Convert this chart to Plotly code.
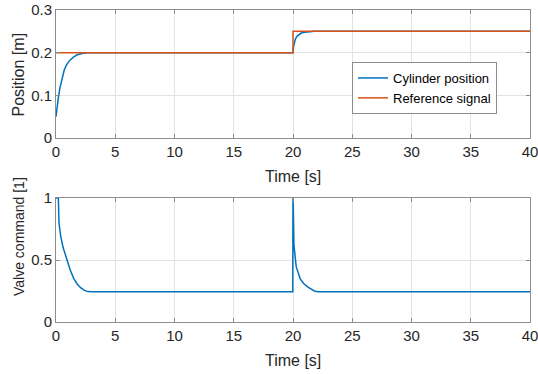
import plotly.graph_objects as go

# ---- data ----
t_pos = [0, 0.1, 0.2, 0.35, 0.5, 0.7, 0.9, 1.2, 1.5, 1.8, 2.2, 2.6, 3.0,
         20.0, 20.05, 20.1, 20.2, 20.35, 20.5, 20.7, 21.0, 21.4, 21.8, 22.2, 40]
cyl_pos = [0.05, 0.075, 0.095, 0.12, 0.14, 0.16, 0.172, 0.183, 0.19, 0.195, 0.198, 0.2, 0.2,
           0.2, 0.215, 0.224, 0.232, 0.239, 0.243, 0.246, 0.248, 0.2495, 0.25, 0.25, 0.25]

t_ref = [0, 20, 20, 40]
ref_sig = [0.2, 0.2, 0.25, 0.25]

t_valve = [0, 0.2, 0.25, 0.4, 0.6, 0.9, 1.2, 1.5, 1.8, 2.1, 2.4, 2.7, 3.0,
           19.98, 20.0, 20.03, 20.08, 20.17, 20.27, 20.6, 20.9, 21.2, 21.5, 21.8, 22.1, 40]
valve_cmd = [1.0, 1.0, 0.8, 0.69, 0.6, 0.5, 0.42, 0.35, 0.305, 0.275, 0.255, 0.245, 0.243,
             0.243, 1.0, 0.9, 0.62, 0.5, 0.446, 0.35, 0.31, 0.285, 0.265, 0.25, 0.244, 0.243]

x_ticks = [0, 5, 10, 15, 20, 25, 30, 35, 40]
pos_ticks = [0, 0.1, 0.2, 0.3]
pos_tick_text = ["0", "0.1", "0.2", "0.3"]
valve_ticks = [0, 0.5, 1]
valve_tick_text = ["0", "0.5", "1"]

W, H = 538, 374
BLUE = "#0072BD"
ORANGE = "#D95319"
AXC = "#8c8c8c"
TXT = "#262626"
GRID = "#e3e3e3"
FONT = "Liberation Sans, Arial, sans-serif"

fig = go.Figure()
fig.add_trace(go.Scatter(x=t_pos, y=cyl_pos, mode="lines", name="Cylinder position",
                         line=dict(color=BLUE, width=1.5),
                         xaxis="x", yaxis="y"))
fig.add_trace(go.Scatter(x=t_ref, y=ref_sig, mode="lines", name="Reference signal",
                         line=dict(color=ORANGE, width=1.5), xaxis="x", yaxis="y"))
fig.add_trace(go.Scatter(x=t_valve, y=valve_cmd, mode="lines", showlegend=False,
                         line=dict(color=BLUE, width=1.5), xaxis="x2", yaxis="y2"))

def px_x(a, b):
    return [a / W, b / W]

def px_y(top, bottom):
    return [1 - bottom / H, 1 - top / H]

ax_common = dict(showline=True, linecolor=AXC, linewidth=1, mirror="ticks",
                 ticks="inside", ticklen=4, tickcolor=AXC, showgrid=True, gridcolor=GRID,
                 gridwidth=1, zeroline=False, automargin=False, ticklabeloverflow="allow",
                 tickfont=dict(family=FONT, size=15, color=TXT))

fig.update_layout(
    width=W, height=H,
    margin=dict(l=0, r=0, t=0, b=0, pad=0),
    paper_bgcolor="white", plot_bgcolor="white",
    font=dict(family=FONT, color=TXT),
    xaxis=dict(domain=px_x(56, 530), range=[0, 40], tickvals=x_ticks, anchor="y", **ax_common),
    yaxis=dict(domain=px_y(10, 138), range=[0, 0.3], tickvals=pos_ticks,
               ticktext=pos_tick_text, anchor="x", **ax_common),
    xaxis2=dict(domain=px_x(56, 530), range=[0, 40], tickvals=x_ticks, anchor="y2", **ax_common),
    yaxis2=dict(domain=px_y(198, 322), range=[0, 1], tickvals=valve_ticks,
                ticktext=valve_tick_text, anchor="x2", **ax_common),
    legend=dict(x=352 / W, y=1 - 62 / H, xanchor="left", yanchor="top",
                bgcolor="white", bordercolor=AXC, borderwidth=1,
                font=dict(family=FONT, size=13, color="#000000"),
                tracegroupgap=0, itemwidth=30),
    showlegend=True,
)

ann = [
    dict(text="Time [s]", x=293 / W, y=1 - 176 / H, font=dict(family=FONT, size=16, color=TXT)),
    dict(text="Time [s]", x=293 / W, y=1 - 360 / H, font=dict(family=FONT, size=16, color=TXT)),
    dict(text="Position [m]", x=18 / W, y=1 - 74.5 / H, textangle=-90,
         font=dict(family=FONT, size=16, color=TXT)),
    dict(text="Valve command [1]", x=19 / W, y=1 - 237 / H, textangle=-90,
         font=dict(family=FONT, size=14, color=TXT)),
]
for a in ann:
    fig.add_annotation(xref="paper", yref="paper", showarrow=False,
                       xanchor="center", yanchor="middle", **a)

fig.write_html("out.html")
